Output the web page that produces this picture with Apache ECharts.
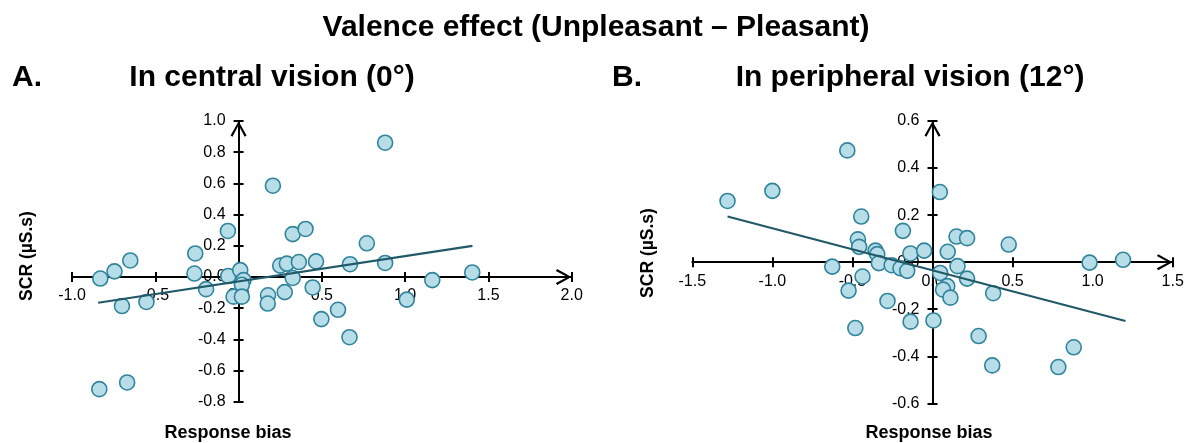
<!DOCTYPE html>
<html>
<head>
<meta charset="utf-8">
<script src="https://cdn.jsdelivr.net/npm/echarts@6/dist/echarts.min.js"></script>
<style>
html,body{margin:0;padding:0;background:#fff;}
#chart{width:1193px;height:443px;}
</style>
</head>
<body>
<div id="chart"></div>
<script>
// ---- Data ----
const mainTitle = 'Valence effect (Unpleasant \u2013 Pleasant)';
const panelLetters = ['A.', 'B.'];
const panelTitles = ['In central vision (0\u00b0)', 'In peripheral vision (12\u00b0)'];
const xAxisTitle = 'Response bias';
const yAxisTitle = 'SCR (\u00b5S.s)';

// Panel A: central vision
const biasA = [-0.83, -0.745, -0.65, -0.70, -0.553, -0.26, -0.265, -0.195, -0.064, -0.062,
  0.01, 0.03, 0.02, -0.03, 0.02, 0.206, 0.177, 0.175, 0.277, 0.25,
  0.29, 0.362, 0.325, 0.402, 0.325, 0.465, 0.445, 0.669, 0.597, 0.497,
  0.666, 0.77, 0.88, 0.88, 1.01, 1.163, 1.403, -0.836, -0.669];
const scrA = [-0.01, 0.036, 0.106, -0.186, -0.16, 0.151, 0.022, -0.078, 0.295, 0.006,
  0.044, -0.02, -0.05, -0.126, -0.126, 0.585, -0.117, -0.17, -0.097, 0.073,
  0.086, 0.096, 0.275, 0.308, -0.006, 0.1, -0.067, 0.082, -0.21, -0.27,
  -0.386, 0.216, 0.861, 0.09, -0.145, -0.02, 0.029, -0.719, -0.676];
const fitA_x = [-0.843, 1.404];
const fitA_y = [-0.165, 0.200];

// Panel B: peripheral vision
const biasB = [-1.28, -1.0, -0.532, -0.445, -0.466, -0.458, -0.356, -0.345, -0.335, -0.626,
  -0.437, -0.524, -0.255, -0.2, -0.158, -0.185, -0.138, -0.052, 0.046, 0.048,
  0.095, 0.15, 0.216, 0.156, 0.216, 0.379, 0.092, 0.066, 0.112, -0.281,
  0.006, -0.137, -0.482, 0.476, 0.981, 1.19, 0.288, 0.373, 0.786, 0.882];
const scrB = [0.26, 0.303, 0.475, 0.194, 0.097, 0.065, 0.049, 0.034, -0.004, -0.019,
  -0.061, -0.121, -0.013, -0.026, -0.037, 0.133, 0.037, 0.049, 0.298, -0.046,
  0.044, 0.109, 0.102, -0.017, -0.07, -0.132, -0.102, -0.117, -0.151, -0.165,
  -0.248, -0.253, -0.28, 0.075, -0.002, 0.01, -0.314, -0.439, -0.446, -0.362];
const fitB_x = [-1.28, 1.205];
const fitB_y = [0.194, -0.25];

// Axis ranges [min, max, interval]
const xRangeA = [-1.0, 2.0, 0.5];
const yRangeA = [-0.8, 1.0, 0.2];
const xRangeB = [-1.5, 1.5, 0.5];
const yRangeB = [-0.6, 0.6, 0.2];

// ---- Build ----
const W = 1193, H = 443;
const FONT = '"Liberation Sans", Arial, sans-serif';
const pairs = (xs, ys) => xs.map((x, i) => [x, ys[i]]);
const CHEVRON = 'path://M0,18 L10,0 L20,18 L17.6,19.6 L10,5.2 L2.4,19.6 Z';

const gridBoxes = [
  { left: 72, right: 571.7, top: 121, bottom: 401.8 },
  { left: 692.3, right: 1172.7, top: 121, bottom: 403.3 }
];

// offset needed to place an axis on the other axis' zero (axes cross at 0)
function zeroOffset(range, size) {
  return -((0 - range[0]) / (range[1] - range[0])) * size;
}

function mkAxis(dim, g, range, otherRange, primary) {
  const box = gridBoxes[g];
  const size = dim === 'x' ? (box.bottom - box.top) : (box.right - box.left);
  return {
    type: 'value', gridIndex: g,
    position: dim === 'x' ? 'bottom' : 'left',
    offset: zeroOffset(otherRange, size),
    min: range[0], max: range[1], interval: range[2],
    axisLine: {
      show: primary, onZero: false,
      symbol: ['none', CHEVRON],
      symbolSize: [16, 16], symbolOffset: [0, -8],
      lineStyle: { color: '#000', width: 2 }
    },
    axisTick: { show: true, inside: !primary, length: 5, lineStyle: { color: '#000', width: 2 } },
    axisLabel: {
      show: primary, color: '#000', fontSize: 16, fontFamily: FONT,
      margin: dim === 'x' ? 11 : 13,
      formatter: v => v.toFixed(1)
    },
    splitLine: { show: false }
  };
}

const titleStyle = (text, align) => ({ text: text, align: align, verticalAlign: 'middle',
  fontSize: 30, fontWeight: 'bold', fontFamily: FONT, fill: '#000' });
const nameStyle = (text, size) => ({ text: text, align: 'center', verticalAlign: 'middle',
  fontSize: size, fontWeight: 'bold', fontFamily: FONT, fill: '#000' });
const dotStyle = { color: '#b7dde8', borderColor: '#31849b', borderWidth: 1.6, opacity: 1 };

const option = {
  animation: false,
  backgroundColor: '#fff',
  grid: gridBoxes.map(b => ({ left: b.left, right: W - b.right, top: b.top, bottom: H - b.bottom })),
  xAxis: [
    mkAxis('x', 0, xRangeA, yRangeA, true),
    mkAxis('x', 0, xRangeA, yRangeA, false),
    mkAxis('x', 1, xRangeB, yRangeB, true),
    mkAxis('x', 1, xRangeB, yRangeB, false)
  ],
  yAxis: [
    mkAxis('y', 0, yRangeA, xRangeA, true),
    mkAxis('y', 0, yRangeA, xRangeA, false),
    mkAxis('y', 1, yRangeB, xRangeB, true),
    mkAxis('y', 1, yRangeB, xRangeB, false)
  ],
  series: [
    { type: 'scatter', xAxisIndex: 0, yAxisIndex: 0, data: pairs(biasA, scrA),
      symbol: 'circle', symbolSize: 15, itemStyle: dotStyle },
    { type: 'line', xAxisIndex: 0, yAxisIndex: 0, data: pairs(fitA_x, fitA_y),
      showSymbol: false, symbol: 'none', lineStyle: { color: '#215968', width: 2.2 }, z: 3 },
    { type: 'scatter', xAxisIndex: 2, yAxisIndex: 2, data: pairs(biasB, scrB),
      symbol: 'circle', symbolSize: 15, itemStyle: dotStyle },
    { type: 'line', xAxisIndex: 2, yAxisIndex: 2, data: pairs(fitB_x, fitB_y),
      showSymbol: false, symbol: 'none', lineStyle: { color: '#215968', width: 2.2 }, z: 3 }
  ],
  graphic: [
    { type: 'text', x: 596, y: 28, style: titleStyle(mainTitle, 'center') },
    { type: 'text', x: 12, y: 77.5, style: titleStyle(panelLetters[0], 'left') },
    { type: 'text', x: 272, y: 77.5, style: titleStyle(panelTitles[0], 'center') },
    { type: 'text', x: 612, y: 77.5, style: titleStyle(panelLetters[1], 'left') },
    { type: 'text', x: 910, y: 77.5, style: titleStyle(panelTitles[1], 'center') },
    { type: 'text', x: 228, y: 433, style: nameStyle(xAxisTitle, 18) },
    { type: 'text', x: 929, y: 433, style: nameStyle(xAxisTitle, 18) },
    { type: 'text', x: 27, y: 256, rotation: Math.PI / 2, style: nameStyle(yAxisTitle, 17.5) },
    { type: 'text', x: 648, y: 253, rotation: Math.PI / 2, style: nameStyle(yAxisTitle, 17.5) }
  ]
};

const chart = echarts.init(document.getElementById('chart'), null, { renderer: 'canvas' });
chart.setOption(option);
</script>
</body>
</html>
